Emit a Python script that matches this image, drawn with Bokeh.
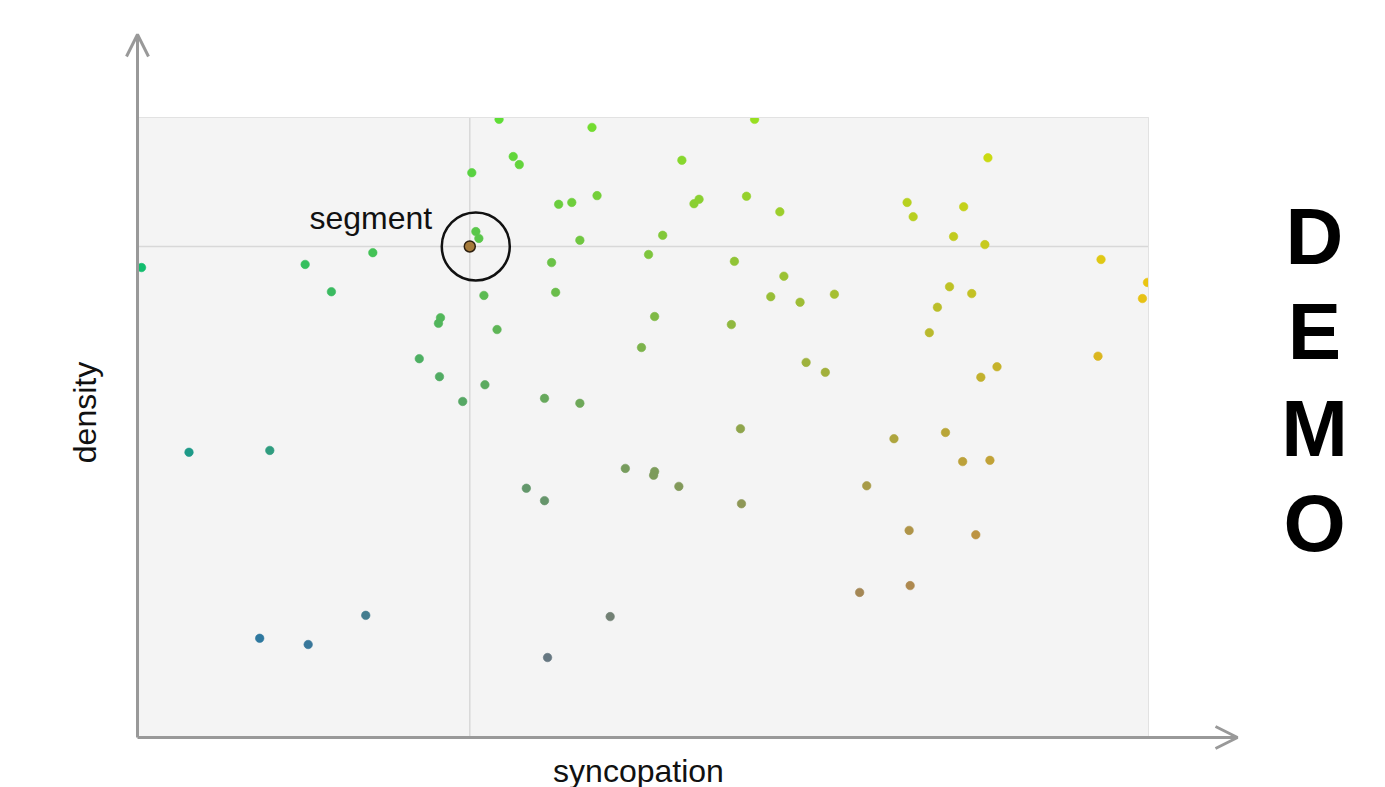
import numpy as np
from bokeh.plotting import figure
from bokeh.models import Range1d, Label, Arrow, OpenHead, ColumnDataSource
from bokeh.embed import file_html
from bokeh.resources import INLINE

# ---------------- data ----------------
syncopation = [0.003, 0.165, 0.191, 0.232, 0.050, 0.130, 0.120, 0.168, 0.225,
               0.330, 0.334, 0.337, 0.357, 0.371, 0.377, 0.449, 0.416, 0.429,
               0.454, 0.437, 0.409, 0.413, 0.342, 0.355, 0.299, 0.297, 0.278,
               0.298, 0.343, 0.321, 0.402, 0.437, 0.384, 0.402, 0.405, 0.467,
               0.482, 0.511, 0.510, 0.535, 0.596, 0.597, 0.498, 0.511, 0.505,
               0.519, 0.538, 0.550, 0.555, 0.602, 0.610, 0.635, 0.590, 0.587,
               0.626, 0.639, 0.655, 0.689, 0.661, 0.680, 0.761, 0.767, 0.817,
               0.807, 0.838, 0.841, 0.783, 0.791, 0.803, 0.825, 0.834, 0.850,
               0.950, 0.953, 0.994, 0.999, 0.748, 0.799, 0.816, 0.843, 0.721,
               0.763, 0.829, 0.714, 0.764]
density = [0.758, 0.763, 0.719, 0.782, 0.460, 0.463, 0.160, 0.150, 0.197,
           0.911, 0.816, 0.805, 0.997, 0.937, 0.924, 0.984, 0.860, 0.863,
           0.874, 0.802, 0.766, 0.718, 0.713, 0.658, 0.677, 0.668, 0.611,
           0.582, 0.569, 0.542, 0.547, 0.539, 0.402, 0.382, 0.129, 0.195,
           0.434, 0.429, 0.423, 0.405, 0.498, 0.377, 0.629, 0.679, 0.779,
           0.810, 0.931, 0.861, 0.868, 0.873, 0.997, 0.848, 0.768, 0.666,
           0.711, 0.744, 0.702, 0.715, 0.605, 0.589, 0.863, 0.840, 0.856,
           0.808, 0.795, 0.935, 0.653, 0.694, 0.727, 0.716, 0.581, 0.598,
           0.615, 0.771, 0.708, 0.734, 0.482, 0.492, 0.445, 0.447, 0.406,
           0.334, 0.327, 0.234, 0.245]
selected_segment = {"label": "segment", "syncopation": 0.328, "density": 0.792}
x_label = "syncopation"
y_label = "density"
side_text = ["D", "E", "M", "O"]

# ---------------- colours (position based gradient) ----------------
TL = np.array([15, 218, 85]); TR = np.array([240, 228, 0])
BL = np.array([25, 100, 190]); BR = np.array([215, 112, 70])
xs = np.array(syncopation); ys = np.array(density)
top = TL[None, :] * (1 - xs[:, None]) + TR[None, :] * xs[:, None]
bot = BL[None, :] * (1 - xs[:, None]) + BR[None, :] * xs[:, None]
rgb = np.clip(bot * (1 - ys[:, None]) + top * ys[:, None], 0, 255).astype(int)
colors = ["#%02x%02x%02x" % tuple(c) for c in rgb]

src = ColumnDataSource(dict(x=syncopation, y=density, c=colors))

# ---------------- layout (canvas pixels -> data units) ----------------
W, H = 1385, 787
L, R, T, B = 138, 1148, 117, 737          # plotting area in canvas pixels
dx = 1.0 / (R - L)
dy = 1.0 / (B - T)
def X(px):
    return (px - L) * dx
def Y(py):
    return (B - py) * dy

p = figure(width=W, height=H, min_border=0, min_border_left=0, min_border_right=0,
           min_border_top=0, min_border_bottom=0, x_axis_type=None, y_axis_type=None,
           x_range=Range1d(X(0), X(W)), y_range=Range1d(Y(H), Y(0)),
           tools="", toolbar_location=None, output_backend="svg")
p.grid.visible = False
p.outline_line_color = None
p.background_fill_color = "white"
p.border_fill_color = "white"

# grey plotting panel
p.quad(left=[0], right=[1], bottom=[0], top=[1], fill_color="#f4f4f4",
       line_color="#e2e2e2", line_width=1)

# crosshair through selected segment
sx, sy = selected_segment["syncopation"], selected_segment["density"]
p.segment(x0=[sx, 0], y0=[0, sy], x1=[sx, 1], y1=[1, sy], line_color="#d8d8d8", line_width=1.5)

p.scatter("x", "y", source=src, size=8.5, fill_color="c", line_color="c", line_alpha=0.6)

# selected point and ring
p.scatter([sx], [sy], size=11, fill_color="#a57a3a", line_color="#2e2010", line_width=1.5)
p.scatter([sx + 6 * dx], [sy], size=68, fill_alpha=0, line_color="#111111", line_width=2.5)

# white masks emulate clipping at the panel edges
p.quad(left=[X(0), X(R) + 0.5 * dx, X(0), X(0)],
       right=[X(L) - 0.5 * dx, X(W), X(W), X(W)],
       bottom=[Y(H), Y(H), Y(T) + 0.5 * dy, Y(H)],
       top=[Y(0), Y(0), Y(0), Y(B) - 0.5 * dy],
       fill_color="white", line_color=None)
p.quad(left=[0], right=[1], bottom=[0], top=[1], fill_alpha=0,
       line_color="#e2e2e2", line_width=1)

p.add_layout(Label(x=X(309), y=Y(217), text=selected_segment["label"],
                   text_font="Liberation Sans", text_font_size="32px", text_color="#111111",
                   text_baseline="alphabetic", text_align="left"))

# arrow axes
ax_col = "#999999"
p.add_layout(Arrow(end=OpenHead(size=22, line_color=ax_col, line_width=3),
                   x_start=X(137), y_start=Y(737), x_end=X(1237), y_end=Y(737),
                   line_color=ax_col, line_width=3))
p.add_layout(Arrow(end=OpenHead(size=22, line_color=ax_col, line_width=3),
                   x_start=X(137), y_start=Y(737), x_end=X(137), y_end=Y(34),
                   line_color=ax_col, line_width=3))

# axis titles
p.add_layout(Label(x=X(638), y=Y(770), text=x_label, text_font="Liberation Sans",
                   text_font_size="32px", text_color="#111111", text_align="center",
                   text_baseline="alphabetic"))
p.add_layout(Label(x=X(84), y=Y(412), text=y_label, angle=np.pi / 2,
                   text_font="Liberation Sans", text_font_size="32px", text_color="#111111",
                   text_align="center", text_baseline="middle"))

# DEMO side text
baselines = [236, 331, 428, 523]
for ch, b in zip(side_text, baselines):
    p.add_layout(Label(x=X(1314), y=Y(b), text=ch, text_font="Liberation Sans",
                       text_font_style="bold", text_font_size="80px", text_color="black",
                       text_align="center", text_baseline="alphabetic"))

open("out.html", "w").write(file_html(p, INLINE))
